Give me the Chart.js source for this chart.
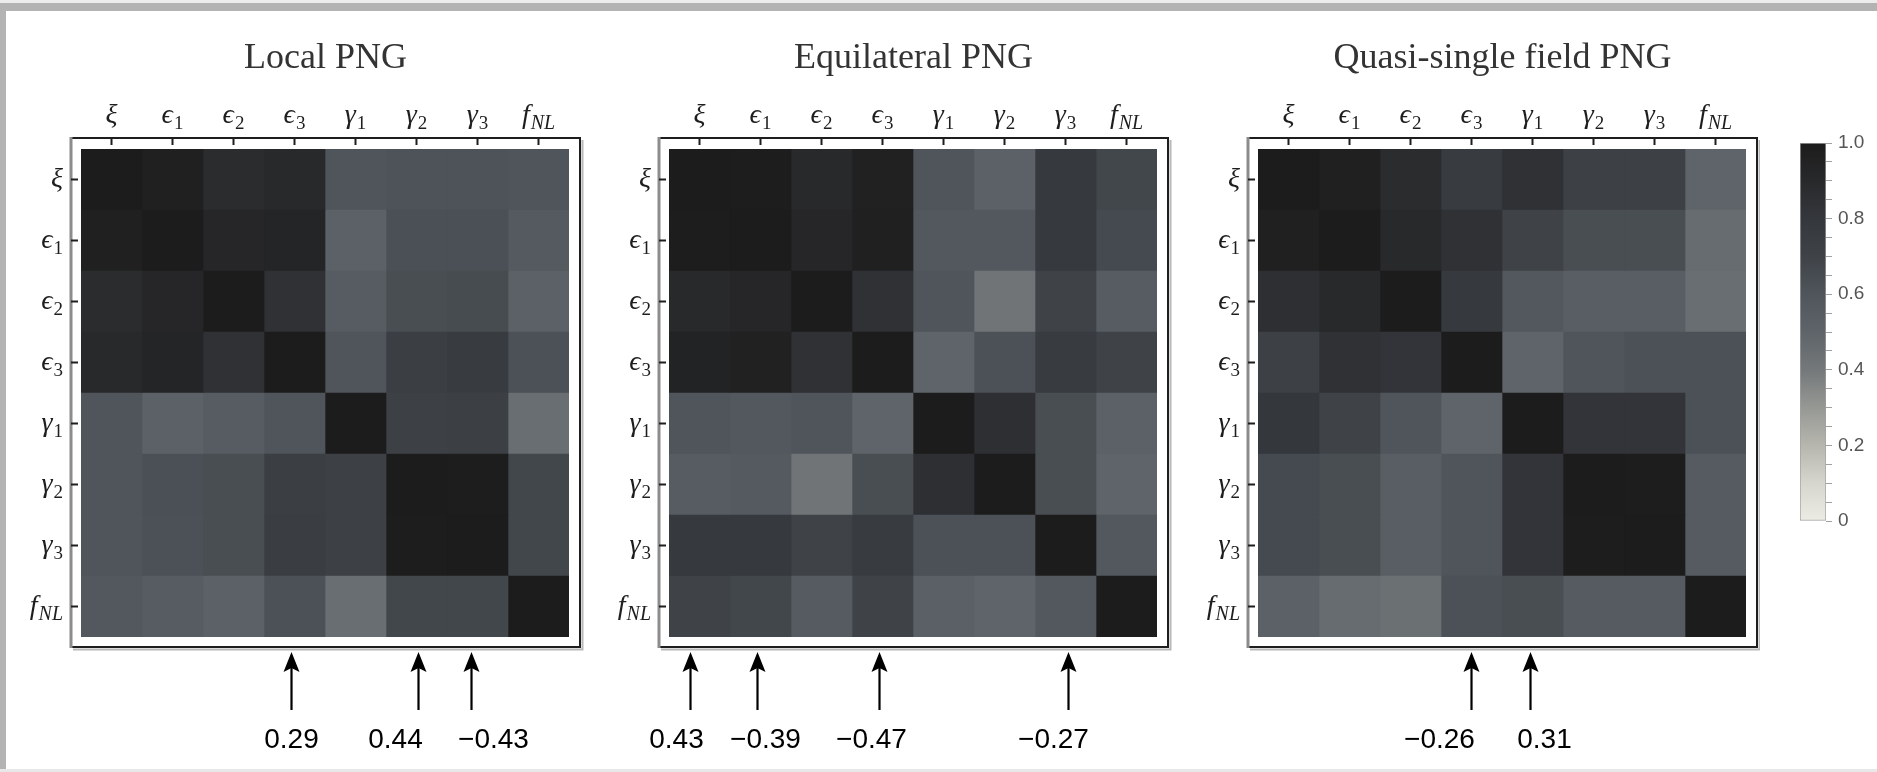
<!DOCTYPE html>
<html>
<head>
<meta charset="utf-8">
<script src="https://cdn.jsdelivr.net/npm/chart.js@4.4.1/dist/chart.umd.min.js"></script>
<style>
  html, body { margin: 0; padding: 0; background: #fff; }
  body { width: 1877px; height: 772px; position: relative; overflow: hidden; }
  #topband { position: absolute; left: 0; top: 0; width: 1877px; height: 3px; background: #ececec; }
  #topbar { position: absolute; left: 0; top: 3px; width: 1877px; height: 8px; background: #b3b3b3; }
  #leftbar { position: absolute; left: 0; top: 3px; width: 6px; height: 769px; background: #b3b3b3; }
  #botband { position: absolute; left: 0; top: 769px; width: 1877px; height: 3px; background: #e8e8e8; }
  canvas { position: absolute; top: 0; }
</style>
</head>
<body>
<div id="topband"></div><div id="topbar"></div><div id="leftbar"></div><div id="botband"></div>
<canvas id="localChart" width="600" height="772" style="left:0px"></canvas>
<canvas id="equilChart" width="590" height="772" style="left:600px"></canvas>
<canvas id="quasiChart" width="570" height="772" style="left:1190px"></canvas>
<canvas id="colorbar" width="117" height="772" style="left:1760px"></canvas>
<script>
// Parameters (rows and columns of every matrix)
const params = ['ξ', 'ϵ_1', 'ϵ_2', 'ϵ_3', 'γ_1', 'γ_2', 'γ_3', 'f_NL'];

// Shade level of each cell (0 = light, 1 = dark)
const localCorr = [
  [1.00, 0.97, 0.88, 0.90, 0.60, 0.61, 0.61, 0.60],
  [0.97, 1.00, 0.92, 0.93, 0.52, 0.63, 0.63, 0.57],
  [0.88, 0.92, 1.00, 0.84, 0.55, 0.64, 0.65, 0.52],
  [0.90, 0.93, 0.84, 1.00, 0.60, 0.74, 0.76, 0.62],
  [0.60, 0.52, 0.55, 0.60, 1.00, 0.72, 0.73, 0.45],
  [0.60, 0.63, 0.64, 0.74, 0.72, 1.00, 0.99, 0.68],
  [0.60, 0.62, 0.64, 0.75, 0.72, 0.99, 1.00, 0.68],
  [0.58, 0.55, 0.52, 0.62, 0.45, 0.68, 0.68, 1.00]
];
const equilCorr = [
  [1.00, 0.99, 0.90, 0.96, 0.60, 0.52, 0.78, 0.68],
  [0.99, 1.00, 0.92, 0.97, 0.58, 0.58, 0.78, 0.66],
  [0.90, 0.92, 1.00, 0.84, 0.60, 0.42, 0.70, 0.55],
  [0.95, 0.96, 0.84, 1.00, 0.50, 0.62, 0.76, 0.70],
  [0.60, 0.58, 0.60, 0.50, 1.00, 0.86, 0.64, 0.52],
  [0.55, 0.57, 0.42, 0.64, 0.86, 1.00, 0.64, 0.50],
  [0.78, 0.78, 0.70, 0.76, 0.62, 0.62, 1.00, 0.58],
  [0.70, 0.68, 0.56, 0.70, 0.53, 0.50, 0.58, 1.00]
];
const quasiCorr = [
  [1.00, 0.97, 0.88, 0.76, 0.84, 0.72, 0.72, 0.50],
  [0.97, 1.00, 0.90, 0.84, 0.70, 0.64, 0.64, 0.46],
  [0.86, 0.90, 1.00, 0.78, 0.58, 0.54, 0.54, 0.45],
  [0.72, 0.84, 0.82, 1.00, 0.50, 0.60, 0.62, 0.62],
  [0.80, 0.70, 0.60, 0.50, 1.00, 0.82, 0.82, 0.62],
  [0.66, 0.64, 0.54, 0.60, 0.82, 1.00, 0.99, 0.56],
  [0.66, 0.64, 0.54, 0.60, 0.82, 0.99, 1.00, 0.56],
  [0.52, 0.46, 0.44, 0.62, 0.64, 0.56, 0.56, 1.00]
];

// Arrows under each matrix: which column, and the printed value
const localArrowParams = ['ϵ_3', 'γ_2', 'γ_3'];
const localArrowValues = ['0.29', '0.44', '−0.43'];
const equilArrowParams = ['ξ', 'ϵ_1', 'ϵ_3', 'γ_3'];
const equilArrowValues = ['0.43', '−0.39', '−0.47', '−0.27'];
const quasiArrowParams = ['ϵ_3', 'γ_1'];
const quasiArrowValues = ['−0.26', '0.31'];

// Colour bar ticks
const colorbarMin = 0;
const colorbarMax = 1;
const colorbarStep = 0.05;

// Grey tone gradient (light to dark)
const shadeStops = [
  [0.0, [236, 236, 229]], [0.1, [214, 214, 206]], [0.2, [182, 182, 174]],
  [0.3, [150, 152, 148]], [0.4, [116, 120, 122]], [0.5, [94, 100, 105]],
  [0.6, [79, 85, 91]], [0.7, [63, 67, 72]], [0.8, [52, 55, 60]],
  [0.9, [40, 41, 43]], [1.0, [28, 28, 28]]
];
function shade(v) {
  v = Math.max(0, Math.min(1, v));
  for (let i = 1; i < shadeStops.length; i++) {
    const [v1, c1] = shadeStops[i];
    const [v0, c0] = shadeStops[i - 1];
    if (v <= v1) {
      const t = (v - v0) / (v1 - v0);
      const c = c0.map((k, j) => Math.round(k + (c1[j] - k) * t));
      return `rgb(${c[0]}, ${c[1]}, ${c[2]})`;
    }
  }
  return 'rgb(28, 28, 28)';
}

const SERIF = '"Liberation Serif", "DejaVu Serif", serif';

// Draw a label like 'ϵ_1' or 'f_NL' with a real subscript
function drawSymbol(ctx, label, x, y, align) {
  const [base, sub] = label.split('_');
  const baseFont = `italic 28px ${SERIF}`;
  const subFont = /^\d+$/.test(sub || '') ? `19px ${SERIF}` : `italic 20px ${SERIF}`;
  ctx.font = baseFont;
  const wb = ctx.measureText(base).width;
  let ws = 0;
  if (sub) { ctx.font = subFont; ws = ctx.measureText(sub).width + 1; }
  const w = wb + ws;
  let x0 = align === 'right' ? x - w : x - w / 2;
  ctx.textAlign = 'left';
  ctx.textBaseline = 'alphabetic';
  ctx.font = baseFont;
  ctx.fillText(base, x0, y);
  if (sub) {
    ctx.font = subFont;
    ctx.fillText(sub, x0 + wb + 1, y + 6);
  }
}

const panelDecor = {
  id: 'panelDecor',
  afterDraw(chart, args, opts) {
    const { ctx, chartArea: a, scales: { x, y } } = chart;
    const fl = a.left - 10, ft = a.top - 11, fr = a.right + 11, fb = a.bottom + 10;
    ctx.save();

    // title
    ctx.fillStyle = '#333';
    ctx.font = `36px ${SERIF}`;
    ctx.textAlign = 'center';
    ctx.textBaseline = 'alphabetic';
    ctx.fillText(opts.title, (fl + fr) / 2, 68);

    // frame with a soft shadow
    ctx.strokeStyle = '#b8b8b8';
    ctx.lineWidth = 2;
    ctx.beginPath();
    ctx.moveTo(fl + 2, fb + 2.5);
    ctx.lineTo(fr + 2.5, fb + 2.5);
    ctx.lineTo(fr + 2.5, ft + 2);
    ctx.stroke();
    ctx.strokeStyle = '#1e1e1e';
    ctx.lineWidth = 2;
    ctx.strokeRect(fl, ft, fr - fl, fb - ft);
    ctx.strokeStyle = '#8c8c8c';
    ctx.lineWidth = 3;
    ctx.beginPath();
    ctx.moveTo(fl, ft - 1);
    ctx.lineTo(fl, fb + 1);
    ctx.stroke();

    // ticks and symbols
    ctx.strokeStyle = '#1e1e1e';
    ctx.fillStyle = '#1e1e1e';
    ctx.lineWidth = 2;
    params.forEach((p, i) => {
      const cx = x.getPixelForValue(i + 0.5);
      const cy = y.getPixelForValue(i);
      ctx.beginPath();
      ctx.moveTo(cx, ft);
      ctx.lineTo(cx, ft + 7);
      ctx.moveTo(fl, cy);
      ctx.lineTo(fl + 7, cy);
      ctx.stroke();
      drawSymbol(ctx, p, cx, ft - 15, 'center');
      drawSymbol(ctx, p, fl - 8, cy + 7, 'right');
    });

    // arrows with values
    ctx.fillStyle = '#000';
    ctx.strokeStyle = '#000';
    opts.arrowParams.forEach((p, k) => {
      const colX = x.getPixelForValue(params.indexOf(p) + 0.5);
      const ax = colX + (opts.arrowNudge[k] || 0);
      const tip = fb + 5;
      ctx.lineWidth = 2.2;
      ctx.beginPath();
      ctx.moveTo(ax, tip + 14);
      ctx.lineTo(ax, fb + 63);
      ctx.stroke();
      ctx.beginPath();
      ctx.moveTo(ax, tip);
      ctx.lineTo(ax - 8, tip + 20);
      ctx.lineTo(ax, tip + 16);
      ctx.lineTo(ax + 8, tip + 20);
      ctx.closePath();
      ctx.fill();
      ctx.font = '28px "Liberation Sans", Arial, sans-serif';
      ctx.textAlign = 'center';
      ctx.fillText(opts.arrowValues[k], colX + (opts.labelNudge[k] || 0), fb + 101);
    });
    ctx.restore();
  }
};

function makePanel(id, title, corr, arrowParams, arrowValues, padding, arrowNudge, labelNudge) {
  return new Chart(document.getElementById(id), {
    type: 'bar',
    data: {
      labels: params,
      datasets: params.map((p, c) => ({
        label: p,
        data: params.map(() => [c, c + 1]),
        backgroundColor: corr.map(row => shade(row[c])),
        borderWidth: 0,
        barPercentage: 1,
        categoryPercentage: 1
      }))
    },
    options: {
      indexAxis: 'y',
      responsive: false,
      animation: false,
      layout: { padding: padding },
      scales: {
        y: { type: 'category', stacked: true, display: false },
        x: { type: 'linear', min: 0, max: params.length, display: false }
      },
      plugins: {
        legend: { display: false },
        tooltip: { enabled: false },
        panelDecor: { title, arrowParams, arrowValues, arrowNudge, labelNudge }
      }
    },
    plugins: [panelDecor]
  });
}

makePanel('localChart', 'Local PNG', localCorr, localArrowParams, localArrowValues,
  { left: 81, right: 31, top: 149, bottom: 135 }, [-3, 2, -6], [-3, -21, 16]);
makePanel('equilChart', 'Equilateral PNG', equilCorr, equilArrowParams, equilArrowValues,
  { left: 69, right: 33, top: 149, bottom: 135 }, [-9, -3, -3, 3], [-23, 5, -11, -12]);
makePanel('quasiChart', 'Quasi-single field PNG', quasiCorr, quasiArrowParams, quasiArrowValues,
  { left: 68, right: 14, top: 149, bottom: 135 }, [0, -2], [-32, 12]);

// Colour bar
new Chart(document.getElementById('colorbar'), {
  type: 'bar',
  data: {
    labels: [''],
    datasets: [{
      data: [[colorbarMin, colorbarMax]],
      backgroundColor: (context) => {
        const { chart } = context;
        const { ctx, chartArea, scales } = chart;
        if (!chartArea) return shade(0.5);
        const y0 = scales.y.getPixelForValue(colorbarMin);
        const y1 = scales.y.getPixelForValue(colorbarMax);
        const g = ctx.createLinearGradient(0, y0, 0, y1);
        shadeStops.forEach(([v]) => g.addColorStop(v, shade(v)));
        return g;
      },
      borderColor: '#a0a0a0',
      borderWidth: 1,
      borderSkipped: false,
      barPercentage: 1,
      categoryPercentage: 1
    }]
  },
  options: {
    responsive: false,
    animation: false,
    layout: { padding: { left: 40, right: 0, top: 143, bottom: 251 } },
    scales: {
      x: { type: 'category', display: false },
      y: {
        type: 'linear',
        position: 'right',
        min: colorbarMin,
        max: colorbarMax,
        afterFit: (s) => { s.width = 51; },
        border: { display: false },
        grid: { drawOnChartArea: false, tickLength: 6, tickColor: '#a0a0a0', tickWidth: 1 },
        ticks: {
          stepSize: colorbarStep,
          autoSkip: false,
          padding: 6,
          color: '#555',
          font: { family: '"Liberation Sans", Arial, sans-serif', size: 19 },
          callback: (value) => {
            const r = Math.round(value * 100);
            if (r % 20 !== 0) return '';
            return r === 0 ? '0' : (r / 100).toFixed(1);
          }
        }
      }
    },
    plugins: { legend: { display: false }, tooltip: { enabled: false } }
  }
});
</script>
</body>
</html>
